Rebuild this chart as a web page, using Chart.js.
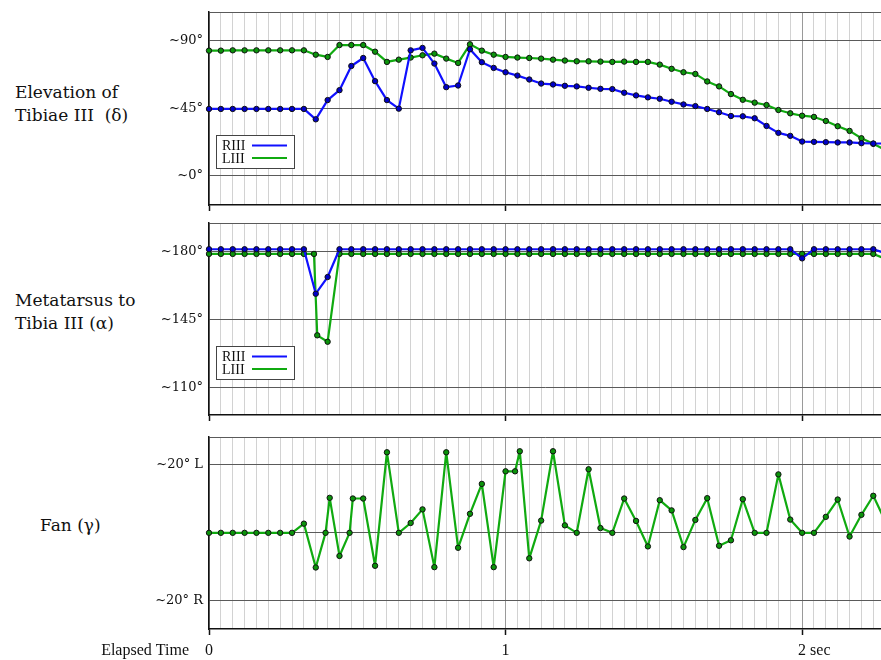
<!DOCTYPE html>
<html>
<head>
<meta charset="utf-8">
<script src="https://cdn.jsdelivr.net/npm/chart.js@4.4.0/dist/chart.umd.min.js"></script>
<style>
  body { margin: 0; background: #fff; width: 881px; height: 660px; position: relative; overflow: hidden; }
  canvas { position: absolute; left: 0; }
  .lbl { position: absolute; font-family: "DejaVu Serif", serif; font-size: 17px; line-height: 23px; color: #111; white-space: pre; }
</style>
</head>
<body>
<div class="lbl" style="left:15px;top:81px">Elevation of
Tibiae III  (δ)</div>
<div class="lbl" style="left:15px;top:289px">Metatarsus to
Tibia III (α)</div>
<div class="lbl" style="left:40px;top:514px">Fan (γ)</div>

<canvas id="elev" width="881" height="215" style="top:0"></canvas>
<canvas id="meta" width="881" height="212" style="top:213px"></canvas>
<canvas id="fan" width="881" height="233" style="top:427px"></canvas>

<script>
// video frames, one every 0.04 s
const frames = [0, 0.04, 0.08, 0.12, 0.16, 0.2, 0.24, 0.28, 0.32, 0.36,
  0.4, 0.44, 0.48, 0.52, 0.56, 0.6, 0.64, 0.68, 0.72, 0.76,
  0.8, 0.84, 0.88, 0.92, 0.96, 1, 1.04, 1.08, 1.12, 1.16,
  1.2, 1.24, 1.28, 1.32, 1.36, 1.4, 1.44, 1.48, 1.52, 1.56,
  1.6, 1.64, 1.68, 1.72, 1.76, 1.8, 1.84, 1.88, 1.92, 1.96,
  2, 2.04, 2.08, 2.12, 2.16, 2.2, 2.24, 2.28];

// elevation of tibiae (deg)
const elevR = [44.6, 44.6, 44.6, 44.6, 44.6, 44.6, 44.6, 44.6, 44.6, 37.7,
  50.5, 57.1, 73.2, 78.5, 63.1, 50.5, 44.8, 83.6, 85.2, 74.8,
  59.1, 60.2, 84.3, 75.7, 71.9, 69.0, 66.8, 64.2, 61.5, 60.9,
  60.0, 59.6, 58.7, 58.0, 57.8, 55.4, 53.6, 52.3, 51.4, 49.4,
  47.6, 46.5, 44.6, 42.4, 39.9, 39.7, 38.4, 33.3, 28.7, 26.7,
  22.9, 22.7, 22.5, 22.3, 22.3, 21.8, 21.6, 21.6];
const elevL = [83.4, 83.4, 83.6, 83.6, 83.6, 83.6, 83.6, 83.6, 83.6, 80.7,
  79.2, 87.1, 87.1, 87.1, 82.7, 75.9, 77.4, 78.8, 80.3, 81.4,
  78.1, 75.2, 87.6, 83.4, 80.7, 79.2, 78.8, 78.5, 78.1, 77.4,
  76.8, 76.3, 76.3, 76.1, 75.9, 76.1, 75.9, 75.9, 74.1, 71.3,
  69.0, 67.9, 62.9, 59.6, 54.5, 50.7, 48.8, 47.2, 43.9, 41.7,
  40.1, 39.3, 36.6, 33.1, 30.0, 25.1, 21.4, 17.4];

// metatarsus to tibia (deg)
const metaR = [181.3, 181.3, 181.3, 181.3, 181.3, 181.3, 181.3, 181.3, 181.3, 158.4,
  167.0, 181.3, 181.3, 181.3, 181.3, 181.3, 181.3, 181.3, 181.3, 181.3,
  181.3, 181.3, 181.3, 181.3, 181.3, 181.3, 181.3, 181.3, 181.3, 181.3,
  181.3, 181.3, 181.3, 181.3, 181.3, 181.3, 181.3, 181.3, 181.3, 181.3,
  181.3, 181.3, 181.3, 181.3, 181.3, 181.3, 181.3, 181.3, 181.3, 181.3,
  176.6, 181.3, 181.3, 181.3, 181.3, 181.3, 181.3, 179.3];
const metaLTimes = [0, 0.04, 0.08, 0.12, 0.16, 0.2, 0.24, 0.28, 0.32, 0.354, 0.365,
  0.4, 0.44, 0.48, 0.52, 0.56, 0.6, 0.64, 0.68, 0.72, 0.76,
  0.8, 0.84, 0.88, 0.92, 0.96, 1, 1.04, 1.08, 1.12, 1.16,
  1.2, 1.24, 1.28, 1.32, 1.36, 1.4, 1.44, 1.48, 1.52, 1.56,
  1.6, 1.64, 1.68, 1.72, 1.76, 1.8, 1.84, 1.88, 1.92, 1.96,
  2, 2.04, 2.08, 2.12, 2.16, 2.2, 2.24, 2.28];
const metaL = [178.9, 178.9, 178.9, 178.9, 178.9, 178.9, 178.9, 178.9, 178.9, 178.9, 137.0,
  133.7, 178.9, 178.9, 178.9, 178.9, 178.9, 178.9, 178.9, 178.9, 178.9,
  178.9, 178.9, 178.9, 178.9, 178.9, 178.9, 178.9, 178.9, 178.9, 178.9,
  178.9, 178.9, 178.9, 178.9, 178.9, 178.9, 178.9, 178.9, 178.9, 178.9,
  178.9, 178.9, 178.9, 178.9, 178.9, 178.9, 178.9, 178.9, 178.9, 178.9,
  178.9, 178.9, 178.9, 178.9, 178.9, 178.9, 178.9, 176.4];

// fan angle (deg, + = L)
const fanTimes = [0, 0.04, 0.08, 0.12, 0.16, 0.2, 0.24, 0.28, 0.32, 0.36,
  0.393, 0.407, 0.44, 0.474, 0.485,
  0.52, 0.56, 0.6, 0.64, 0.68, 0.72, 0.76, 0.8, 0.84, 0.88, 0.92, 0.96, 1,
  1.032, 1.048,
  1.08, 1.12, 1.16, 1.2, 1.24, 1.28, 1.32, 1.36, 1.4, 1.44, 1.48, 1.52, 1.56,
  1.6, 1.64, 1.68, 1.72, 1.76, 1.8, 1.84, 1.88, 1.92, 1.96,
  2, 2.04, 2.08, 2.12, 2.16, 2.2, 2.24, 2.28];
const fan = [0, 0, 0, 0, 0, 0, 0, 0, 2.7, -10.2,
  0, 10.3, -6.8, 0, 10.1,
  10.1, -9.7, 23.7, 0, 2.9, 6.9, -10.1, 23.7, -4.4, 5.6, 14.4, -10.1, 18.1,
  18.1, 24.0,
  -7.5, 3.6, 24.0, 2.2, 0, 18.7, 1.4, 0, 10.1, 3.5, -4.0, 9.6, 6.6,
  -4.2, 3.8, 10.2, -3.8, -2.2, 9.9, 0, 0, 17.2, 3.9, 0,
  0, 4.7, 9.8, -1.1, 5.3, 10.9, 3.5];

const elevTicks = [0, 45, 90];
const elevTickLabels = ['~0°', '~45°', '~90°'];
const metaTicks = [110, 145, 180];
const metaTickLabels = ['~110°', '~145°', '~180°'];
const fanTicks = [-20, 0, 20];
const fanTickLabels = ['~20° R', '', '~20° L'];
const timeTicks = [0, 1, 2];
const timeLabels = ['0', '1', '2 sec'];

const X_MAX = 2.266;
const BLUE = '#1010ff', BLUE_PT = '#0000c8';
const GREEN = '#10aa10', GREEN_PT = '#0b930b';

function pts(xs, ys) {
  return xs.map((x, i) => ({ x: x, y: ys[i] }));
}
function isWhole(v) {
  return Math.abs(v - Math.round(v)) < 1e-6;
}

function series(label, xs, ys, line, fill) {
  return {
    label: label,
    data: pts(xs, ys),
    borderColor: line,
    borderWidth: 2.2,
    borderJoinStyle: 'round',
    pointRadius: 2.7,
    pointBorderWidth: 1,
    pointBackgroundColor: fill,
    pointBorderColor: '#111',
    tension: 0,
    clip: false
  };
}

// small framed legend in the lower left of a panel
const boxLegend = {
  id: 'boxLegend',
  afterDraw(chart, args, o) {
    if (!o.show) return;
    const ctx = chart.ctx, area = chart.chartArea;
    const x = area.left + 7, y = area.top + 123, w = 78, h = 33;
    ctx.save();
    ctx.fillStyle = '#fff';
    ctx.fillRect(x, y, w, h);
    ctx.strokeStyle = '#444';
    ctx.lineWidth = 1;
    ctx.strokeRect(x + 0.5, y + 0.5, w, h);
    ctx.font = '14px "Liberation Serif", serif';
    ctx.textBaseline = 'middle';
    chart.data.datasets.forEach((ds, i) => {
      const cy = y + 10.5 + i * 12.5;
      ctx.fillStyle = '#111';
      ctx.fillText(ds.label, x + 6, cy + 1);
      ctx.strokeStyle = ds.borderColor;
      ctx.lineWidth = 2;
      ctx.beginPath();
      ctx.moveTo(x + 36, cy);
      ctx.lineTo(x + 71, cy);
      ctx.stroke();
    });
    ctx.restore();
  }
};

// time labels under the last panel
const timeAxis = {
  id: 'timeAxis',
  afterDraw(chart, args, o) {
    if (!o.show) return;
    const ctx = chart.ctx, xs = chart.scales.x;
    const base = chart.chartArea.bottom + 26;
    ctx.save();
    ctx.font = '16px "Liberation Serif", serif';
    ctx.fillStyle = '#111';
    ctx.textAlign = 'right';
    ctx.fillText('Elapsed Time', 189, base);
    timeTicks.forEach((t, i) => {
      const px = xs.getPixelForValue(t);
      const parts = timeLabels[i].split(' ');
      ctx.textAlign = 'center';
      ctx.fillText(parts[0], px, base);
      if (parts.length > 1) {
        ctx.textAlign = 'left';
        ctx.fillText(' ' + parts.slice(1).join(' '), px + ctx.measureText(parts[0]).width / 2, base);
      }
    });
    ctx.restore();
  }
};

function panel(id, p) {
  return new Chart(document.getElementById(id), {
    type: 'line',
    data: { datasets: p.datasets },
    options: {
      responsive: false,
      animation: false,
      layout: { autoPadding: false, padding: { top: p.padTop, left: 0, right: 0, bottom: 0 } },
      plugins: {
        legend: { display: false },
        tooltip: { enabled: false },
        boxLegend: { show: p.legend },
        timeAxis: { show: p.timeAxis }
      },
      scales: {
        x: {
          type: 'linear',
          min: 0,
          max: X_MAX,
          afterBuildTicks: s => { s.ticks = frames.filter(t => t < X_MAX).map(v => ({ value: v })); },
          afterFit: s => { s.height = p.xHeight; s.paddingLeft = 0; s.paddingRight = 0; },
          ticks: { display: false },
          grid: {
            color: c => isWhole(c.tick.value) ? '#9a9a9a' : '#d2d2d2',
            lineWidth: 1,
            drawTicks: true,
            tickLength: 6,
            tickWidth: 1.5,
            tickColor: c => isWhole(c.tick.value) ? '#111' : 'rgba(0,0,0,0)'
          },
          border: { color: '#111', width: 1.5 }
        },
        y: {
          min: p.min,
          max: p.max,
          afterBuildTicks: s => { s.ticks = [p.min].concat(p.ticks, [p.max]).map(v => ({ value: v })); },
          afterFit: s => { s.width = 209; s.paddingTop = 0; s.paddingBottom = 0; },
          ticks: {
            callback: v => { const i = p.ticks.indexOf(v); return i < 0 ? '' : p.labels[i]; },
            font: { family: '"DejaVu Serif", serif', size: 13 },
            color: '#111',
            padding: 6
          },
          grid: {
            color: c => c.tick.value === p.min ? 'rgba(0,0,0,0)' : '#5a5a5a',
            lineWidth: 1,
            drawTicks: false
          },
          border: { color: '#111', width: 1.5 }
        }
      }
    },
    plugins: [boxLegend, timeAxis]
  });
}

panel('elev', {
  datasets: [series('RIII', frames, elevR, BLUE, BLUE_PT), series('LIII', frames, elevL, GREEN, GREEN_PT)],
  min: -19.3, max: 109.1, ticks: elevTicks, labels: elevTickLabels,
  padTop: 12, xHeight: 10, legend: true, timeAxis: false
});

panel('meta', {
  datasets: [series('RIII', frames, metaR, BLUE, BLUE_PT), series('LIII', metaLTimes, metaL, GREEN, GREEN_PT)],
  min: 96, max: 194.8, ticks: metaTicks, labels: metaTickLabels,
  padTop: 10, xHeight: 10, legend: true, timeAxis: false
});

panel('fan', {
  datasets: [series('Fan', fanTimes, fan, GREEN, GREEN_PT)],
  min: -28.3, max: 28.2, ticks: fanTicks, labels: fanTickLabels,
  padTop: 10, xHeight: 31, legend: false, timeAxis: true
});
</script>
</body>
</html>
